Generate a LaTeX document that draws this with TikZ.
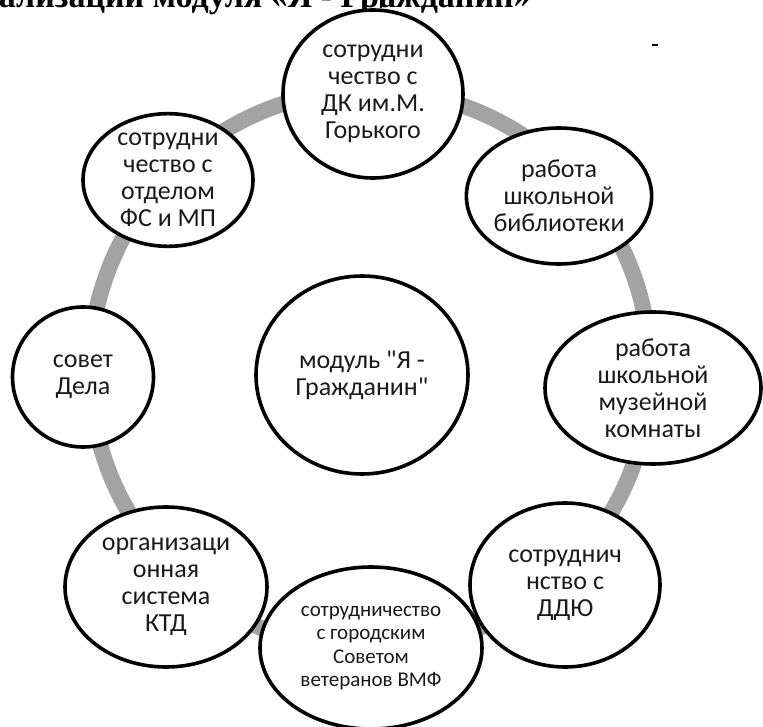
\documentclass[tikz,border=0pt]{standalone}
\usepackage{fontspec}
\setmainfont{Carlito}[Ligatures=TeXOff]
\newfontfamily\titlefont{Liberation Serif}
\usetikzlibrary{shapes.geometric}
\definecolor{ringgray}{HTML}{A3A3A3}
\definecolor{txt}{HTML}{1A1A1A}
\tikzset{
  bubble/.style={ellipse, draw=black, line width=3.6pt, fill=white, inner sep=0pt,
    align=center, text=txt, font=\fontsize{26}{27}\selectfont},
  smallbubble/.style={bubble, font=\fontsize{21}{23.5}\selectfont},
}
\begin{document}
\begin{tikzpicture}[x=1pt,y=-1pt]
\useasboundingbox[fill=white] (0,0) rectangle (763,727);
% title (cut off at the top)
\node[anchor=base east, inner sep=0pt, font=\titlefont\bfseries\fontsize{34}{35}\selectfont] (title) at (531,8) {реализации модуля «Я - Гражданин»};
% ring
\draw[ringgray, line width=16pt] (370,370) circle[radius=280];
% nodes
\node[bubble, minimum width=180pt, minimum height=168pt] (top) at (373,94) {сотрудни\\чество с\\ДК им.М.\\Горького};
\node[bubble, minimum width=170pt, minimum height=118pt] (ul) at (168,180) {сотрудни\\чество с\\отделом\\ФС и МП};
\node[bubble, minimum width=178pt, minimum height=136pt] (ur) at (559,196) {работа\\школьной\\библиотеки};
\node[bubble, minimum width=141pt, minimum height=140pt] (left) at (83,377) {совет\\Дела};
\node[bubble, minimum width=216pt, minimum height=152pt] (right) at (653,388) {работа\\школьной\\музейной\\комнаты};
\node[bubble, minimum width=212pt, minimum height=198pt] (center) at (362,375) {модуль "Я -\\Гражданин"};
\node[bubble, minimum width=202pt, minimum height=160pt] (bl) at (166,587) {организаци\\онная\\система\\КТД};
\node[smallbubble, minimum width=222pt, minimum height=162pt] (bottom) at (371,648) {сотрудничество\\с городским\\Советом\\ветеранов ВМФ};
\node[bubble, minimum width=190pt, minimum height=164pt] (br) at (565,585) {сотруднич\\нство с\\ДДЮ};
% stem above top node
\coordinate (stemtop) at (381,0);
\draw[line width=2pt] (top.north -| stemtop) -- (stemtop);
% small stray dash
\coordinate (d1) at (652,45);
\coordinate (d2) at (658,45);
\draw[line width=2pt] (d1) -- (d2);
\end{tikzpicture}
\end{document}
